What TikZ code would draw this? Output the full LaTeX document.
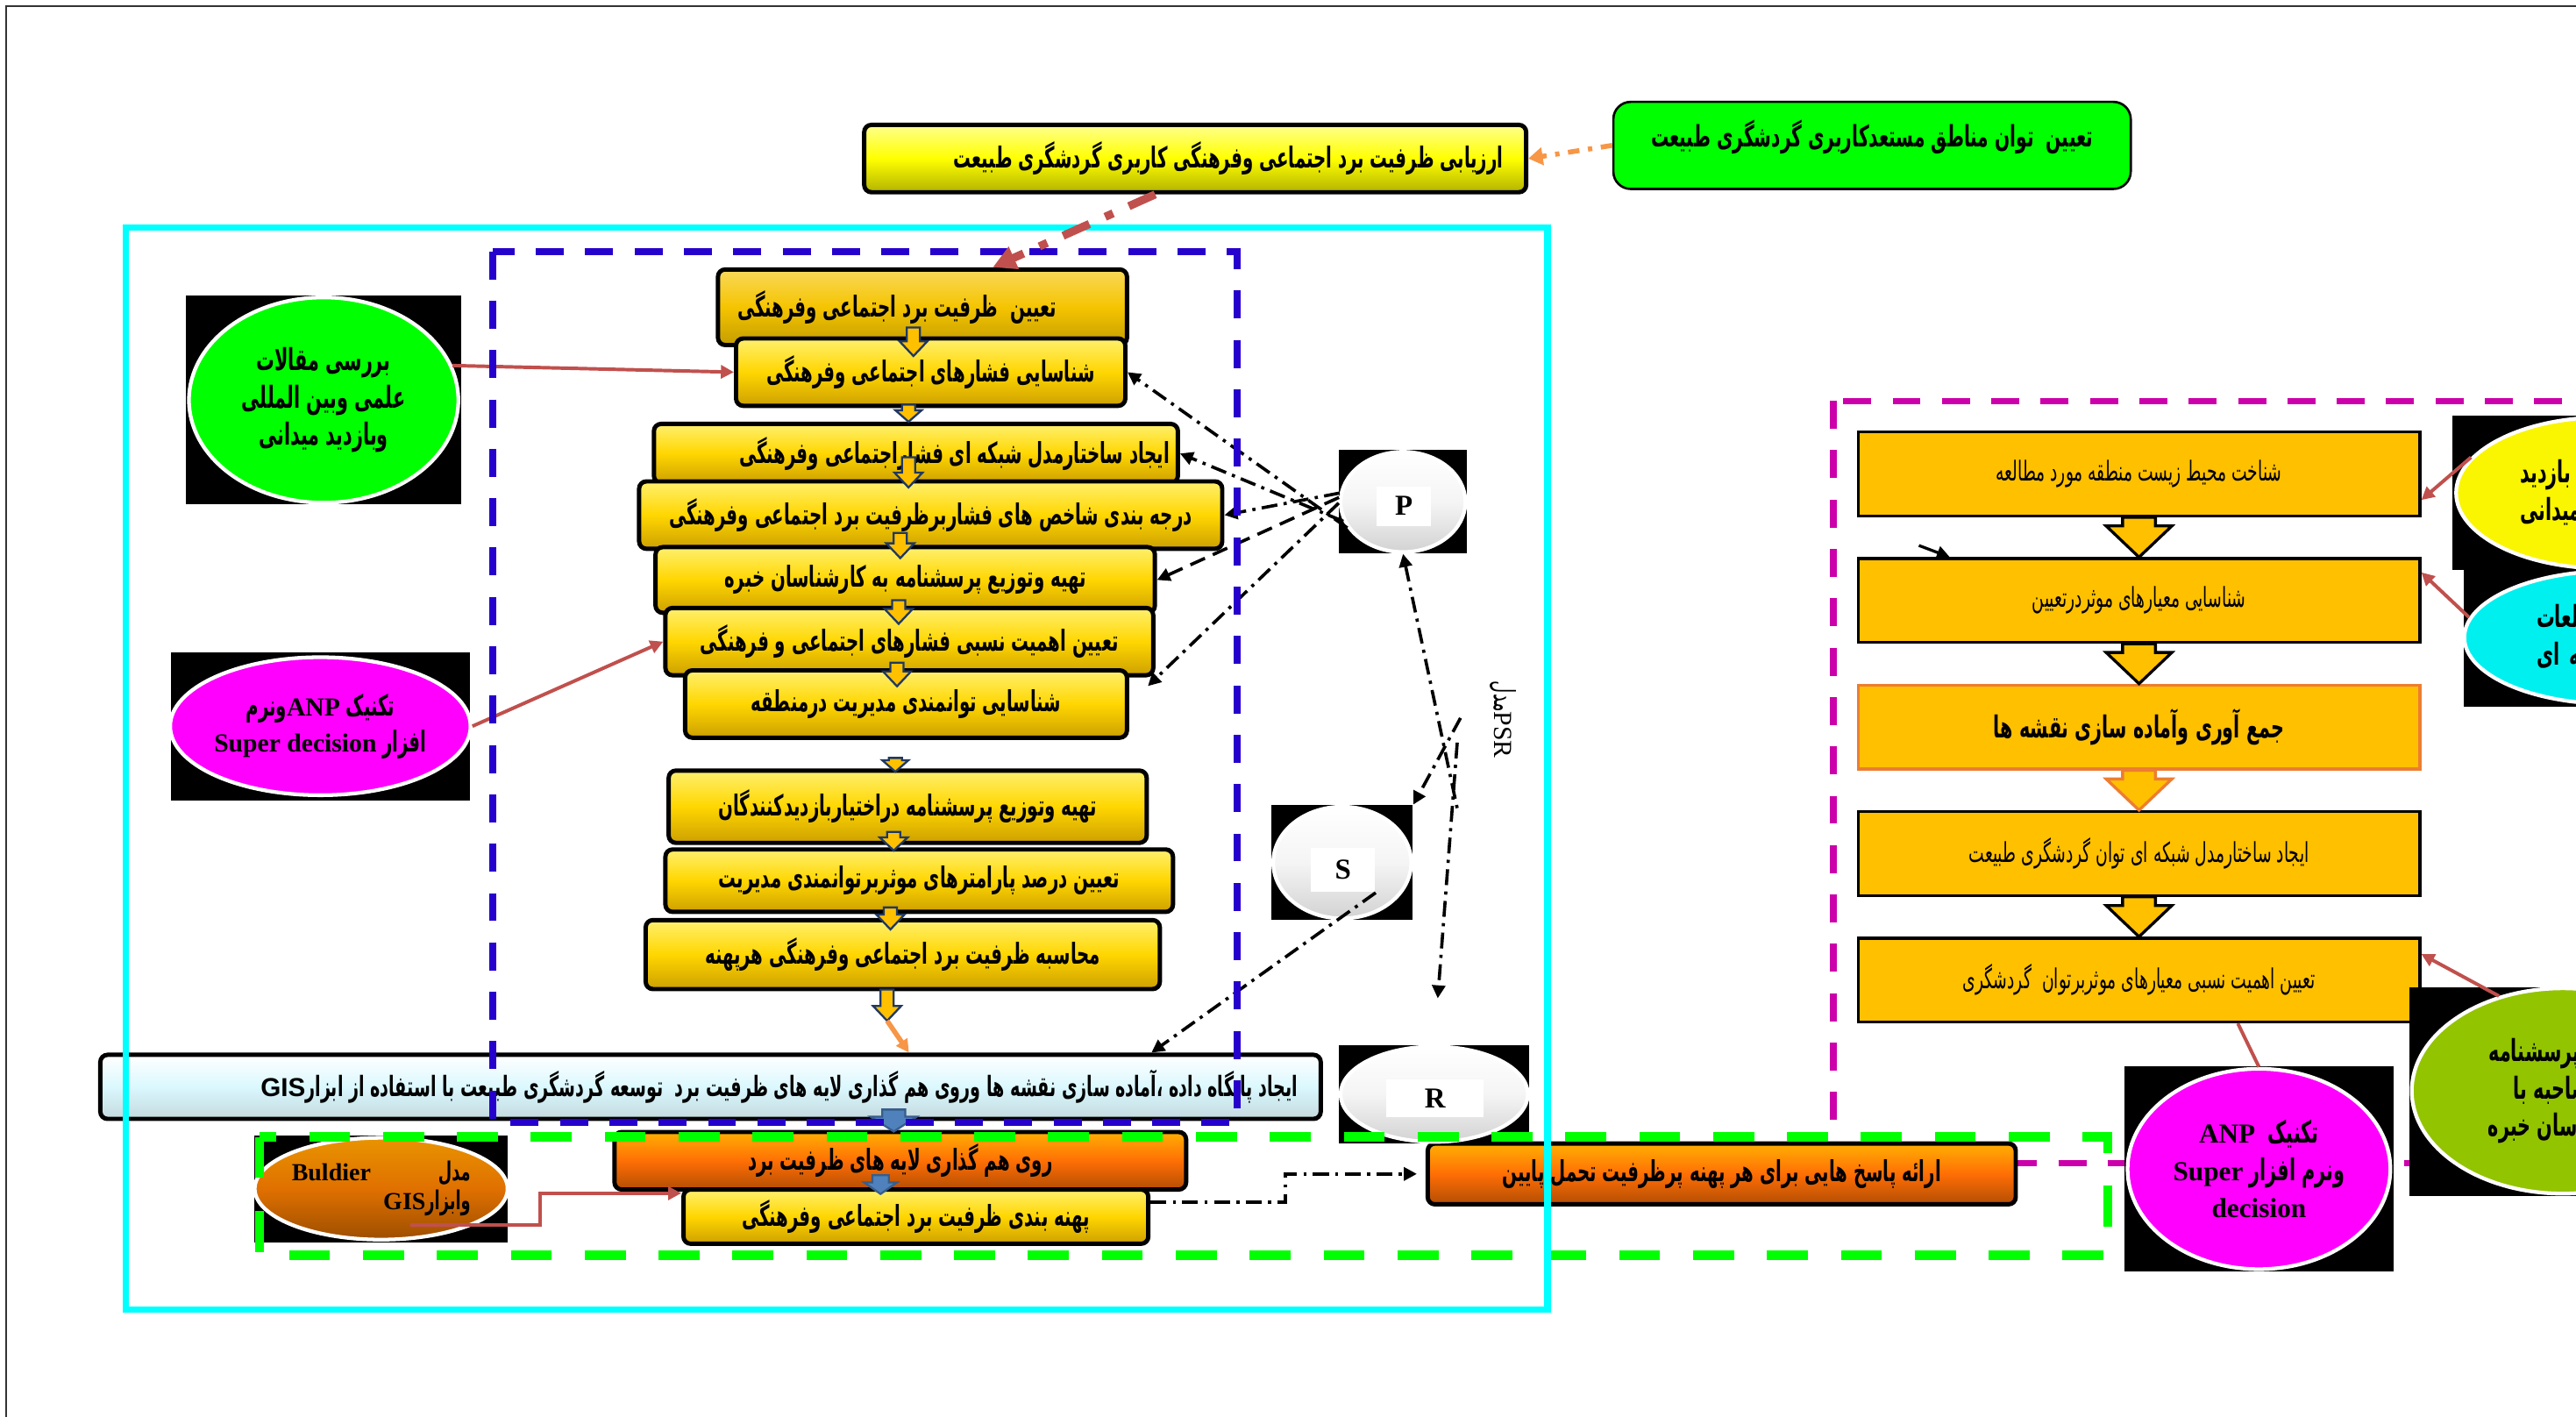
\documentclass[tikz,border=0pt]{standalone}
\usepackage{fontspec}
\setmainfont{Liberation Serif}
\newfontfamily\fafont[Script=Arabic,FakeStretch=0.6]{DejaVu Sans}
\newfontfamily\gisfont{Liberation Sans}
\TeXXeTstate=1
\usepackage{xcolor}
\usetikzlibrary{shapes, arrows.meta, calc}

\definecolor{gold}{RGB}{255,214,0}
\definecolor{goldtop}{RGB}{255,240,110}
\definecolor{goldbot}{RGB}{205,160,0}
\definecolor{firstgold}{RGB}{245,196,0}
\definecolor{rightgold}{RGB}{255,192,0}
\definecolor{orangeline}{RGB}{237,125,49}
\definecolor{boxorange}{RGB}{255,110,5}
\definecolor{gisblue}{RGB}{218,248,254}
\definecolor{connred}{RGB}{192,80,77}
\definecolor{connorange}{RGB}{247,150,70}
\definecolor{framecyan}{RGB}{0,255,255}
\definecolor{frameblue}{RGB}{38,0,204}
\definecolor{framegreen}{RGB}{0,255,0}
\definecolor{framemag}{RGB}{204,0,170}
\definecolor{arrowblue}{RGB}{79,129,189}
\definecolor{arrowblueline}{RGB}{56,93,138}
\definecolor{arrownavy}{RGB}{31,56,100}
\definecolor{ellmag}{RGB}{255,0,255}
\definecolor{ellgreen}{RGB}{0,255,0}
\definecolor{ellolive}{RGB}{146,196,0}
\definecolor{ellcyan}{RGB}{0,240,240}
\definecolor{ellyellow}{RGB}{250,245,0}
\definecolor{ellbrown}{RGB}{224,112,0}
\definecolor{evalyellow}{RGB}{255,255,0}

\newcommand\rtltext[1]{\beginR #1\endR}
\newcommand\ltrtext[1]{\beginL{#1}\endL}
% block arrow pointing down: style, start, tip, half shaft, half head, head length
\newcommand\blockdown[6]{%
  \path #2 coordinate (bd-s);
  \path #3 coordinate (bd-t);
  \draw[#1] ($(bd-s)+(-#4,0)$) -- ($(bd-t)+(-#4,-#6)$) -- ($(bd-t)+(-#5,-#6)$) -- (bd-t)
    -- ($(bd-t)+(#5,-#6)$) -- ($(bd-t)+(#4,-#6)$) -- ($(bd-s)+(#4,0)$) -- cycle;}

\begin{document}
\begin{tikzpicture}[x=0.02cm, y=-0.02cm, >={Triangle[length=4.5pt,width=4.5pt]},
    ybox/.style={rectangle, draw=black, line width=1.5pt, rounded corners=2.5pt, inner sep=0pt,
        top color=goldtop, bottom color=goldbot, middle color=gold,
        font=\fafont\bfseries\fontsize{10}{11}\selectfont},
    obox/.style={ybox, top color=boxorange!55!yellow, bottom color=boxorange!70!black, middle color=boxorange},
    rbox/.style={rectangle, draw=black, line width=1pt, fill=rightgold, minimum width=6.84cm, minimum height=1.02cm,
        font=\fafont\fontsize{9.5}{11}\selectfont},
    blackbg/.style={rectangle, fill=black, inner sep=0pt},
    fillell/.style={ellipse, draw=white, line width=1.3pt, inner sep=0pt, align=center,
        font=\fafont\bfseries\fontsize{10.5}{13}\selectfont},
    psrell/.style={ellipse, draw=white, line width=1.3pt, inner sep=0pt, top color=white, bottom color=gray!35, middle color=gray!8},
    psrlbl/.style={rectangle, fill=white, inner sep=0pt, font=\bfseries\fontsize{10}{12}\selectfont},
    dashdot/.style={black, line width=1.1pt, dash pattern=on 5.5pt off 2.2pt on 1.1pt off 2.2pt},
    longdash/.style={black, line width=1.1pt, dash pattern=on 5.5pt off 3pt},
    redarrow/.style={connred, line width=1.2pt, ->},
    sblock/.style={draw=arrownavy, fill=rightgold, line width=0.7pt},
    bblock/.style={draw=arrowblueline, fill=arrowblue, line width=0.7pt},
    rblock/.style={draw=black, fill=rightgold, line width=1pt},
    blueframe/.style={frameblue, line width=2.45pt, dash pattern=on 9.7pt off 7.4pt},
    greenframe/.style={framegreen, line width=3.3pt, dash pattern=on 14.2pt off 11.4pt},
    magframe/.style={framemag, line width=2.2pt, dash pattern=on 9.7pt off 7.4pt},
    cyanframe/.style={framecyan, line width=2.2pt}]
    \useasboundingbox (0,0) rectangle (1568,862);
    \clip (0,0) rectangle (1568,862);

    \draw[line width=0.6pt, black!80] (3.5,3.5) rectangle (1600,900);

    % right hand part
    \draw[magframe] (1116,244) rectangle (1700,708);

    \node[rbox] (r1) at (1302,288.5) {\rtltext{شناخت محیط زیست منطقه مورد مطالعه}};
    \node[rbox] (r2) at (1302,365.5) {\rtltext{شناسایی معیارهای موثردرتعیین}};
    \node[rbox, draw=orangeline, font=\fafont\bfseries\fontsize{10.5}{11}\selectfont] (r3) at (1302,442.5) {\rtltext{جمع آوری وآماده سازی نقشه ها}};
    \node[rbox] (r4) at (1302,519.5) {\rtltext{ایجاد ساختارمدل شبکه ای توان گردشگری طبیعت}};
    \node[rbox] (r5) at (1302,596.5) {\rtltext{تعیین اهمیت نسبی معیارهای موثربرتوان\ \ گردشگری}};

    \blockdown{rblock}{(r1.south)}{(r2.north)}{10}{20}{19}
    \blockdown{rblock}{(r2.south)}{(r3.north)}{10}{20}{19}
    \blockdown{rblock, draw=orangeline}{(r3.south)}{(r4.north)}{10}{20}{19}
    \blockdown{rblock}{(r4.south)}{(r5.north)}{10}{20}{19}

    \node[blackbg, minimum width=4.14cm, minimum height=1.88cm] (visitbg) at (1596,300) {};
    \node[fillell, fill=ellyellow, minimum width=3.6cm, minimum height=1.84cm, text width=2.04cm, align=left] (visit) at (1585,300) {\rtltext{بازدید}\\\rtltext{میدانی}};
    \node[blackbg, minimum width=4.02cm, minimum height=1.66cm] (librarybg) at (1600,388.5) {};
    \node[fillell, fill=ellcyan, minimum width=3.6cm, minimum height=1.62cm, text width=1.84cm, align=left] (library) at (1590,388) {\rtltext{مطالعات}\\\rtltext{کتابخانه ای}};
    \node[blackbg, minimum width=4.66cm, minimum height=2.54cm] (surveybg) at (1583,664.5) {};
    \node[fillell, fill=ellolive, minimum width=3.68cm, minimum height=2.5cm] (survey) at (1560,664) {\rtltext{تکنیک پرسشنامه}\\\rtltext{ومصاحبه با}\\\rtltext{کارشناسان خبره}};
    \node[blackbg, minimum width=3.28cm, minimum height=2.5cm] (anpRbg) at (1375,711.5) {};
    \node[fillell, fill=ellmag, minimum width=3.2cm, minimum height=2.44cm] (anpR) at (1375,711.5) {\rtltext{تکنیک\ \ \ltrtext{\rmfamily\bfseries\fontsize{9.5}{13}\selectfont ANP}}\\\rtltext{ونرم افزار \ltrtext{\rmfamily\bfseries\fontsize{9.5}{13}\selectfont Super}}\\{\rmfamily\bfseries\fontsize{9.5}{13}\selectfont decision}};

    \draw[redarrow] (visit.165) -- ($(r1.east)!0.6!(r1.south east)$);
    \draw[redarrow] (library.172) -- ($(r2.north east)!0.35!(r2.east)$);
    \draw[redarrow] (survey.124) -- ($(r5.north east)!0.4!(r5.east)$);
    \draw[connred, line width=1.2pt] ($(r5.south west)!0.675!(r5.south east)$) -- (anpR.north);
    \coordinate (stray) at (1168,332);
    \draw[->, line width=1pt] (stray) -- ($(r2.north west)!0.165!(r2.north east)$);

    % top boxes
    \node[ybox, minimum width=8.06cm, minimum height=0.82cm, inner xsep=0.28cm, top color=evalyellow!45!white, bottom color=evalyellow!70!black, middle color=evalyellow] (eval) at (727.5,96.5)
        {\makebox[7.5cm][r]{\rtltext{ارزیابی ظرفیت برد اجتماعی وفرهنگی کاربری گردشگری طبیعت}}};
    \node[rectangle, draw=black, line width=0.8pt, rounded corners=6pt, fill=ellgreen, minimum width=6.3cm, minimum height=1.06cm, text depth=8pt,
        font=\fafont\bfseries\fontsize{10.2}{11}\selectfont] (pot) at (1139.5,88.5) {\rtltext{تعیین\ \ توان مناطق مستعدکاربری گردشگری طبیعت}};
    \draw[connorange, line width=1.7pt, dash pattern=on 4pt off 3pt on 1.5pt off 3pt, -{Triangle[length=5pt,width=6pt]}] (pot.west) -- (eval.east);

    % left ellipses
    \node[blackbg, minimum width=3.36cm, minimum height=2.54cm] (litbg) at (197,243.5) {};
    \node[fillell, fill=ellgreen, minimum width=3.28cm, minimum height=2.5cm] (lit) at (197,243.5) {\rtltext{بررسی مقالات}\\\rtltext{علمی وبین المللی}\\\rtltext{وبازدید میدانی}};
    \node[blackbg, minimum width=3.64cm, minimum height=1.8cm] (anpLbg) at (195,442) {};
    \node[fillell, fill=ellmag, minimum width=3.56cm, minimum height=1.68cm, font=\fafont\bfseries\fontsize{10}{12.5}\selectfont] (anpL) at (195,442)
        {\rtltext{تکنیک \ltrtext{\rmfamily\bfseries\fontsize{9}{12.5}\selectfont ANP}ونرم}\\\rtltext{افزار \ltrtext{\rmfamily\bfseries\fontsize{9}{12.5}\selectfont Super decision}}};

    % left column
    \node[ybox, minimum width=4.98cm, minimum height=0.92cm, inner xsep=0.24cm, top color=firstgold!65!white, bottom color=firstgold!80!black, middle color=firstgold] (b1) at (561.5,187)
        {\makebox[4.5cm][l]{\rtltext{تعیین\ \ ظرفیت برد اجتماعی وفرهنگی}}};
    \node[ybox, minimum width=4.74cm, minimum height=0.82cm] (b2) at (566.5,226.5) {\rtltext{شناسایی فشارهای اجتماعی وفرهنگی}};
    \node[ybox, minimum width=6.38cm, minimum height=0.72cm, inner xsep=0.1cm] (b3) at (557.5,276) {\makebox[6.18cm][r]{\rtltext{ایجاد ساختارمدل شبکه ای فشاراجتماعی وفرهنگی}}};
    \node[ybox, minimum width=7.1cm, minimum height=0.82cm] (b4) at (566.5,313.5) {\rtltext{درجه بندی شاخص های فشاربرظرفیت برد اجتماعی وفرهنگی}};
    \node[ybox, minimum width=6.08cm, minimum height=0.8cm] (b5) at (551,353) {\rtltext{تهیه وتوزیع پرسشنامه به کارشناسان خبره}};
    \node[ybox, minimum width=5.94cm, minimum height=0.82cm] (b6) at (553.5,390.5) {\rtltext{تعیین اهمیت نسبی فشارهای اجتماعی و فرهنگی}};
    \node[ybox, minimum width=5.38cm, minimum height=0.82cm] (b7) at (551.5,428.5) {\rtltext{شناسایی توانمندی مدیریت درمنطقه}};
    \node[ybox, minimum width=5.82cm, minimum height=0.88cm] (b8) at (552.5,491) {\rtltext{تهیه وتوزیع پرسشنامه دراختیاربازدیدکنندگان}};
    \node[ybox, minimum width=6.18cm, minimum height=0.76cm] (b9) at (559.5,536) {\rtltext{تعیین درصد پارامترهای موثربرتوانمندی مدیریت}};
    \node[ybox, minimum width=6.26cm, minimum height=0.84cm] (b10) at (549.5,581) {\rtltext{محاسبه ظرفیت برد اجتماعی وفرهنگی هرپهنه}};

    \blockdown{sblock}{($(b1.south)+(-5.5,-12)$)}{($(b2.north)+(-10.5,12)$)}{4}{8.5}{9}
    \blockdown{sblock}{($(b2.south)+(-13.5,-2)$)}{($(b3.north)+(-4.5,0)$)}{4}{8}{7}
    \blockdown{sblock}{($(b3.south)+(-4.5,-17)$)}{($(b4.north)+(-13.5,5)$)}{4}{8.5}{9}
    \blockdown{sblock}{($(b4.south)+(-18.5,-11)$)}{($(b5.north)+(-3,8)$)}{4}{8.5}{9}
    \blockdown{sblock}{($(b5.south)+(-4,-9)$)}{($(b6.north)+(-6.5,11)$)}{4}{8.5}{9}
    \blockdown{sblock}{($(b6.south)+(-7.5,-9)$)}{($(b7.north)+(-5.5,11)$)}{4}{8.5}{9}
    \blockdown{sblock}{($(b7.south)+(-6.5,11)$)}{($(b8.north)+(-7.5,2)$)}{4}{8}{7}
    \blockdown{sblock}{($(b8.south)+(-8.5,-8)$)}{($(b9.north)+(-15.5,2)$)}{4}{8.5}{8}
    \blockdown{sblock}{($(b9.south)+(-17.5,-4)$)}{($(b10.north)+(-7.5,7)$)}{4}{8.5}{9}
    \blockdown{sblock}{($(b10.south)+(-9.5,-1)$)}{($(b10.south)+(-9.5,18)$)}{4}{8.5}{9}

    % GIS part
    \node[ybox, minimum width=14.86cm, minimum height=0.78cm, inner xsep=0.28cm, font=\fafont\bfseries\fontsize{9.7}{11}\selectfont,
        top color=white, bottom color=gisblue!75!gray, middle color=gisblue] (gis) at (432.5,661.5)
        {\makebox[14.3cm][r]{\rtltext{ایجاد پایگاه داده ،آماده سازی نقشه ها وروی هم گذاری لایه های ظرفیت برد\ \ توسعه گردشگری طبیعت با استفاده از ابزار\ltrtext{\gisfont\bfseries\fontsize{9}{11}\selectfont GIS}}}};
    \draw[connorange, line width=1.7pt, ->] ($(b10.south)+(-9.5,18)$) -- ($(gis.north west)!0.662!(gis.north east)$);

    \node[obox, minimum width=6.96cm, minimum height=0.7cm] (ov) at (548,706.5) {\rtltext{روی هم گذاری لایه های ظرفیت برد}};
    \node[ybox, minimum width=5.66cm, minimum height=0.66cm] (zon) at (557.5,740.5) {\rtltext{پهنه بندی ظرفیت برد اجتماعی وفرهنگی}};
    \node[obox, minimum width=7.16cm, minimum height=0.74cm] (resp) at (1048,714.5) {\rtltext{ارائه پاسخ هایی برای هر پهنه پرظرفیت تحمل پایین}};

    \blockdown{bblock}{($(gis.south)+(111.5,-7)$)}{($(ov.north)+(-4,1)$)}{7}{14}{9}
    \blockdown{bblock}{($(ov.south)+(-12,-10)$)}{($(zon.north)+(-21.5,4)$)}{5}{10}{7}

    \node[blackbg, minimum width=3.08cm, minimum height=1.3cm] (mbbg) at (232,723.5) {};
    \node[fillell, minimum width=2.92cm, minimum height=1.24cm, top color=ellbrown!75!yellow, bottom color=ellbrown!70!black, middle color=ellbrown,
        align=right, font=\fafont\bfseries\fontsize{9}{10}\selectfont] (mb) at (232,723.5)
        {\rtltext{مدل\hspace{2.6em}\ltrtext{\rmfamily\bfseries\fontsize{8.5}{10}\selectfont Buldier}}\\\rtltext{وابزار\ltrtext{\rmfamily\bfseries\fontsize{8.5}{10}\selectfont GIS}}};
    \draw[redarrow] ($(mb.south)+(18,-10)$) -- ++(79,0) |- ($(zon.north west)!0.1!(zon.south west)$);
    \draw[dashdot, ->, shorten >=3pt] ($(zon.north east)!0.25!(zon.south east)$) -- ++(82,0) |- (resp.west);

    \draw[redarrow] (lit.15) -- (b2.west);
    \draw[redarrow] (anpL.east) -- (b6.west);

    % PSR
    \node[blackbg, minimum width=1.56cm, minimum height=1.26cm] (Pbg) at (854,305.5) {};
    \node[psrell, minimum width=1.52cm, minimum height=1.22cm] (P) at (854,305.5) {};
    \node[psrlbl, minimum width=0.66cm, minimum height=0.48cm] (Plbl) at (854.5,308) {P};
    \node[blackbg, minimum width=1.72cm, minimum height=1.4cm] (Sbg) at (817,525) {};
    \node[psrell, minimum width=1.68cm, minimum height=1.36cm] (S) at (817,525) {};
    \node[psrlbl, minimum width=0.78cm, minimum height=0.54cm] (Slbl) at (817.5,529.5) {S};
    \node[blackbg, minimum width=2.32cm, minimum height=1.2cm] (Rbg) at (873,666) {};
    \node[psrell, minimum width=2.28cm, minimum height=1.16cm] (R) at (873,666) {};
    \node[psrlbl, minimum width=1.18cm, minimum height=0.46cm] (Rlbl) at (873.5,668.5) {R};
    \node[rotate=-90, font=\fontsize{9}{11}\selectfont] (psrname) at (915,438) {{\fafont\fontsize{10}{11}\selectfont\rtltext{مدل}}PSR};

    \draw[dashdot, ->] (P.205) -- (b2.east);
    \draw[dashdot, ->] (P.198) -- (b3.east);
    \draw[dashdot, ->] (P.172) -- (b4.east);
    \draw[longdash, ->] (P.176) -- (b5.east);
    \draw[dashdot, ->, shorten >=9pt] (P.181) -- (b7.east);
    \coordinate (psrA) at (887,492);
    \coordinate (psrB) at (889,437);
    \coordinate (psrC) at (887,452);
    \draw[dashdot, <-] (P.south) -- (psrA);
    \draw[dashdot, ->] (psrB) -- (Sbg.north east);
    \draw[dashdot, ->, shorten >=16pt] (psrC) -- (Rbg.north);
    \draw[dashdot, ->] (Slbl.south east) -- ($(gis.north west)!0.86!(gis.north east)$);

    % frames
    \draw[blueframe] (300,153) rectangle (753,683);
    \draw[greenframe] (158,692) rectangle (1283,764);
    \draw[cyanframe] (76.5,138.5) rectangle (942,797);

    \draw[connred, line width=2.8pt, dash pattern=on 10pt off 6pt on 3pt off 6pt, -{Triangle[length=8pt,width=8pt]}]
        ($(eval.south west)!0.44!(eval.south east)$) -- ($(b1.north west)!0.67!(b1.north east)$);
\end{tikzpicture}
\end{document}
